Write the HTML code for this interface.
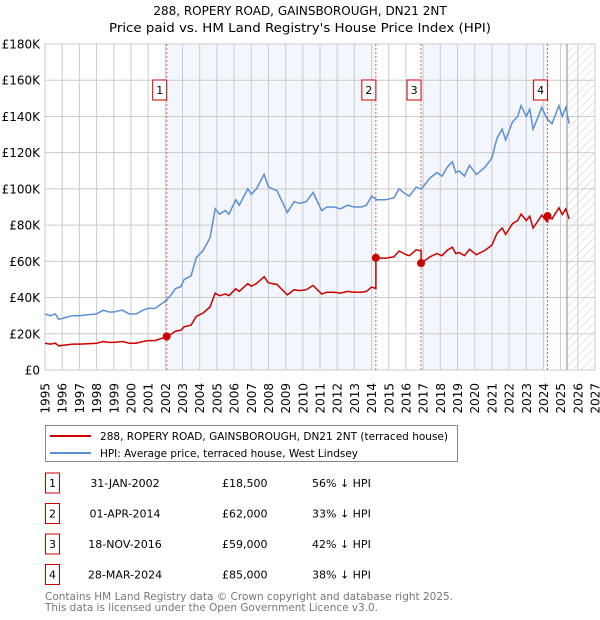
<!DOCTYPE html>
<html><head><meta charset="utf-8"><style>
body{margin:0;background:#fff;font-family:"DejaVu Sans","Liberation Sans",sans-serif;}
svg{display:block}
</style></head><body>
<svg id="c" width="600" height="620" xmlns="http://www.w3.org/2000/svg" font-family="DejaVu Sans, Liberation Sans, sans-serif">
<defs><pattern id="hatch" width="6" height="6" patternUnits="userSpaceOnUse" patternTransform="rotate(45)"><rect width="6" height="6" fill="#fff"/><line x1="0" y1="0" x2="0" y2="6" stroke="#ccc" stroke-width="1"/></pattern></defs>
<text x="300" y="15" text-anchor="middle" font-size="12">288, ROPERY ROAD, GAINSBOROUGH, DN21 2NT</text>
<text x="300" y="32" text-anchor="middle" font-size="12" textLength="382" lengthAdjust="spacingAndGlyphs">Price paid vs. HM Land Registry's House Price Index (HPI)</text>
<g id="plot"></g>
<g>
<rect x="45.5" y="425.5" width="412" height="36" fill="#fff" stroke="#888"/>
<line x1="50" y1="436" x2="91" y2="436" stroke="#cc0000" stroke-width="2"/>
<text x="100" y="440" font-size="11" textLength="348" lengthAdjust="spacingAndGlyphs">288, ROPERY ROAD, GAINSBOROUGH, DN21 2NT (terraced house)</text>
<line x1="50" y1="453" x2="91" y2="453" stroke="#5b8fd6" stroke-width="2"/>
<text x="100" y="457" font-size="11" textLength="258" lengthAdjust="spacingAndGlyphs">HPI: Average price, terraced house, West Lindsey</text>
</g>
<g id="tbl" font-size="11"></g>
<text x="45" y="600" font-size="11" fill="#777" textLength="408" lengthAdjust="spacingAndGlyphs">Contains HM Land Registry data © Crown copyright and database right 2025.</text>
<text x="45" y="611" font-size="11" fill="#777" textLength="333" lengthAdjust="spacingAndGlyphs">This data is licensed under the Open Government Licence v3.0.</text>
</svg>
<script>
const hpiYears=[1995.0,1995.3,1995.6,1995.8,1996.2,1996.6,1997.0,1997.5,1998.0,1998.4,1998.7,1999.0,1999.5,1999.9,2000.3,2000.7,2001.0,2001.4,2001.7,2002.0,2002.3,2002.6,2002.9,2003.1,2003.5,2003.8,2004.2,2004.6,2004.9,2005.15,2005.5,2005.7,2006.1,2006.3,2006.8,2007.0,2007.3,2007.75,2008.0,2008.5,2009.1,2009.5,2009.8,2010.2,2010.6,2011.1,2011.4,2011.8,2012.2,2012.6,2013.0,2013.4,2013.7,2014.0,2014.3,2014.8,2015.3,2015.6,2016.0,2016.2,2016.6,2016.9,2017.4,2017.8,2018.1,2018.4,2018.7,2018.9,2019.1,2019.4,2019.7,2020.1,2020.6,2021.0,2021.3,2021.6,2021.8,2022.2,2022.5,2022.7,2023.0,2023.2,2023.4,2023.7,2023.9,2024.2,2024.5,2024.9,2025.1,2025.3,2025.5];
const hpiValues=[31,30,31,28,29,30,30,30.5,31,33,32,32,33,31,31,33,34,34,36,38,41,45,46,50,52,62,66,73,89,86,88,86,94,91,100,97,100,108,101,99,87,93,92,93,98,88,90,90,89,91,90,90,91,96,94,94,95,100,97,96,101,100,106,109,107,112,115,109,110,107,113,108,112,117,128,133,127,137,140,146,140,144,133,140,145,139,136,146,140,145,136];
const saleYears=[2002.08,2014.25,2016.88,2024.24];
const salePrices=[18.5,62,59,85];
const saleDates=["31-JAN-2002","01-APR-2014","18-NOV-2016","28-MAR-2024"];
const salePriceLabels=["£18,500","£62,000","£59,000","£85,000"];
const salePct=["56% ↓ HPI","33% ↓ HPI","42% ↓ HPI","38% ↓ HPI"];
const yTicks=[0,20,40,60,80,100,120,140,160,180];
const yTickLabels=["£0","£20K","£40K","£60K","£80K","£100K","£120K","£140K","£160K","£180K"];
const xTicks=[1995,1996,1997,1998,1999,2000,2001,2002,2003,2004,2005,2006,2007,2008,2009,2010,2011,2012,2013,2014,2015,2016,2017,2018,2019,2020,2021,2022,2023,2024,2025,2026,2027];
const X0=45,X1=595,Y0=370,Y1=44,yrMin=1995,yrMax=2027,vMax=180,hatchYear=2025.37;
const sx=y=>X0+(y-yrMin)/(yrMax-yrMin)*(X1-X0);
const sy=v=>Y0-v/vMax*(Y0-Y1);
const NS="http://www.w3.org/2000/svg";
const plot=document.getElementById('plot');
function mk(t,a,p){const e=document.createElementNS(NS,t);for(const k in a)e.setAttribute(k,a[k]);(p||plot).appendChild(e);return e;}
function hpiAt(y){for(let i=1;i<hpiYears.length;i++){if(y<=hpiYears[i]){const t=(y-hpiYears[i-1])/(hpiYears[i]-hpiYears[i-1]);return hpiValues[i-1]+t*(hpiValues[i]-hpiValues[i-1]);}}return hpiValues[hpiValues.length-1];}
let r=mk('rect',{x:sx(saleYears[0]),y:Y1,width:sx(saleYears[1])-sx(saleYears[0]),height:Y0-Y1,fill:'#f3f6fd'});


r=mk('rect',{x:sx(saleYears[2]),y:Y1,width:sx(saleYears[3])-sx(saleYears[2]),height:Y0-Y1,fill:'#f3f6fd'});


r=mk('rect',{x:sx(hatchYear),y:Y1,width:X1-sx(hatchYear),height:Y0-Y1,fill:'url(#hatch)'});


xTicks.forEach((t,i)=>{const l=mk('line',{x1:sx(t),x2:sx(t),y1:Y1,y2:Y0,stroke:'#cccccc'});


const tx=mk('text',{x:0,y:0,'font-size':12,'text-anchor':'end',transform:`translate(${sx(t)+4.5},${383}) rotate(-90)`});tx.textContent=t;

});
yTicks.forEach((t,i)=>{const l=mk('line',{x1:X0,x2:X1,y1:sy(t),y2:sy(t),stroke:'#cccccc'});


const tx=mk('text',{x:40,y:sy(t)+4.5,'font-size':12,'text-anchor':'end'});tx.textContent=yTickLabels[i];

});
r=mk('line',{x1:sx(hatchYear),x2:sx(hatchYear),y1:Y1,y2:Y0,stroke:'#888'});


saleYears.forEach((s,i)=>{const l=mk('line',{x1:sx(s),x2:sx(s),y1:Y1,y2:Y0,stroke:'#e06060','stroke-dasharray':'2,2'});


const bx=mk('rect',{x:sx(s)-14,y:80,width:14,height:20,fill:'#fff',stroke:'#cc0000'});


const tx=mk('text',{x:sx(s)-7,y:94,'font-size':11,'text-anchor':'middle'});tx.textContent=i+1;

});
let d=hpiYears.map((y,i)=>(i?'L':'M')+sx(y).toFixed(1)+','+sy(hpiValues[i]).toFixed(1)).join('');
r=mk('path',{d,fill:'none',stroke:'#5b8fd6','stroke-width':1.5});


function ratioAt(y){let k=0;for(let i=0;i<saleYears.length;i++)if(y>=saleYears[i])k=i;return salePrices[k]/hpiAt(saleYears[k]);}
let pts=[];
let ys=hpiYears.concat(saleYears).sort((a,b)=>a-b);
ys.forEach(y=>{const si=saleYears.indexOf(y);if(si>0){pts.push([y,hpiAt(y)*salePrices[si-1]/hpiAt(saleYears[si-1])]);}pts.push([y,hpiAt(y)*ratioAt(y)]);});
d=pts.map((p,i)=>(i?'L':'M')+sx(p[0]).toFixed(1)+','+sy(p[1]).toFixed(1)).join('');
r=mk('path',{d,fill:'none',stroke:'#cc0000','stroke-width':1.5});


saleYears.forEach((s,i)=>{const c=mk('circle',{cx:sx(s),cy:sy(salePrices[i]),r:4,fill:'#cc0000'});

});
const tbl=document.getElementById('tbl');
saleDates.forEach((dt,i)=>{const yc=483+i*30.5;
const b=mk('rect',{x:45.5,y:yc-10,width:14,height:20,fill:'#fff',stroke:'#cc0000'},tbl);


let t=mk('text',{x:52.5,y:yc+4,'text-anchor':'middle'},tbl);t.textContent=i+1;


t=mk('text',{x:125,y:yc+4,'text-anchor':'middle'},tbl);t.textContent=dt;


t=mk('text',{x:222,y:yc+4},tbl);t.textContent=salePriceLabels[i];


t=mk('text',{x:312,y:yc+4},tbl);t.textContent=salePct[i];

});
</script>
</body></html>
